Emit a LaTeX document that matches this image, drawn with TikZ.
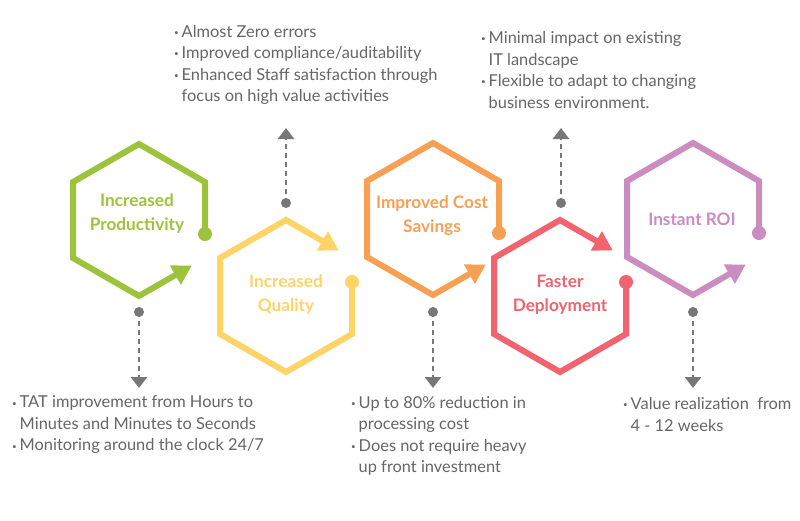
\documentclass[tikz,border=0pt]{standalone}
\usepackage{fontspec}
\setmainfont{Lato}
\usetikzlibrary{arrows.meta,calc}
\definecolor{cgreen}{HTML}{9DC23B}
\definecolor{cyellow}{HTML}{FFD366}
\definecolor{corange}{HTML}{F7A054}
\definecolor{cred}{HTML}{F0636F}
\definecolor{cpurple}{HTML}{CB8CC0}
\definecolor{cgray}{HTML}{777777}
\definecolor{ctext}{HTML}{666666}
\newcommand\bit{\makebox[7.5pt][l]{\raisebox{1.8pt}{\fontsize{8}{8}\selectfont •}}}
\newcommand\ind{\hspace*{7.5pt}}
\begin{document}
\begin{tikzpicture}[x=1pt,y=-1pt,
  hexline/.style={line width=6pt, line join=miter, -{Triangle[length=19pt,width=21pt]}},
  hexlabel/.style={align=center, font=\bfseries\fontsize{17.2}{24}\selectfont, inner sep=0pt},
  bullets/.style={align=left, anchor=west, text=ctext, font=\fontsize{16.4}{21.5}\selectfont, inner sep=0pt},
  conn/.style={draw=cgray, line width=2.5pt, dash pattern=on 5pt off 4pt, -{Triangle[length=11pt,width=16pt]}},
  conndot/.style={fill=cgray}
]
\useasboundingbox (0,0) rectangle (800,520);
\fill[white] (0,0) rectangle (800,520);

% top-row hexagons
\foreach \cx/\cy/\col/\nm in {139/220/cgreen/g, 433/219/corange/o, 693/219/cpurple/p}{
  \begin{scope}[shift={(\cx,\cy)}]
    \coordinate (\nm dot) at (66,14);
    \coordinate (\nm br) at (66,38);
    \coordinate (\nm b) at (0,76);
    \draw[hexline, draw=\col, fill=none] (\nm dot) -- (66,-38) -- (0,-76) -- (-66,-38) -- (-66,38) -- (\nm b) -- ($(\nm b)!0.8!(\nm br)$);
    \fill[\col] (\nm dot) circle[radius=7pt];
  \end{scope}
}
% bottom-row hexagons
\foreach \cx/\cy/\col/\nm in {286/296/cyellow/y, 560/296/cred/r}{
  \begin{scope}[shift={(\cx,\cy)}]
    \coordinate (\nm dot) at (66,-14);
    \coordinate (\nm tr) at (66,-38);
    \coordinate (\nm t) at (0,-76);
    \draw[hexline, draw=\col, fill=none] (\nm dot) -- (66,38) -- (0,76) -- (-66,38) -- (-66,-38) -- (\nm t) -- ($(\nm t)!0.8!(\nm tr)$);
    \fill[\col] (\nm dot) circle[radius=7pt];
  \end{scope}
}

% labels
\node[hexlabel, text=cgreen] (lg) at (137,213.5) {Increased\\Productivity};
\node[hexlabel, text=cyellow] (ly) at (286,295) {Increased\\Quality};
\node[hexlabel, text=corange] (lo) at (432,216) {Improved Cost\\Savings};
\node[hexlabel, text=cred] (lr) at (560,295) {Faster\\Deployment};
\node[hexlabel, text=cpurple] (lp) at (692,219) {Instant ROI};

% connectors
\foreach \x/\nm in {139/g, 433/o, 693/p}{
  \coordinate (\nm s) at (\x,312);
  \coordinate (\nm e) at (\x,388);
  \draw[conn] (\nm s) -- (\nm e);
  \fill[cgray] (\nm s) circle[radius=5pt];
}
\foreach \x/\nm in {286/y, 561/r}{
  \coordinate (\nm s) at (\x,203);
  \coordinate (\nm e) at (\x,128);
  \draw[conn] (\nm s) -- (\nm e);
  \fill[cgray] (\nm s) circle[radius=5pt];
}

% text blocks
\node[bullets] (t1) at (174,65) {\bit Almost Zero errors\\\bit Improved compliance/auditability\\\bit Enhanced Staff satisfaction through\\\ind focus on high value activities};
\node[bullets] (t2) at (481,70) {\bit Minimal impact on existing\\\ind IT landscape\\\bit Flexible to adapt to changing\\\ind business environment.};
\node[bullets] (b1) at (12,425) {\bit TAT improvement from Hours to\\\ind Minutes and Minutes to Seconds\\\bit Monitoring around the clock 24/7};
\node[bullets] (b2) at (351,436) {\bit Up to 80\% reduction in\\\ind processing cost\\\bit Does not require heavy\\\ind up front investment};
\node[bullets] (b3) at (623,414.5) {\bit Value realization\ \ from\\\ind 4 - 12 weeks};
\end{tikzpicture}
\end{document}
